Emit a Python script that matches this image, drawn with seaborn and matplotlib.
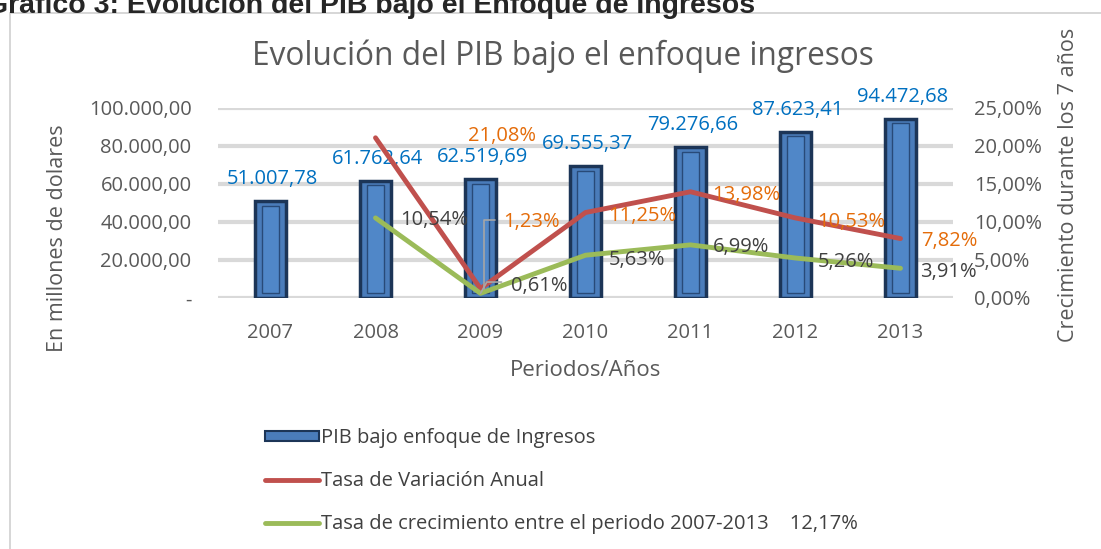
import numpy as np
import matplotlib
matplotlib.use("Agg")
import matplotlib.pyplot as plt
import matplotlib.patches as mpatches
from matplotlib.lines import Line2D
import seaborn as sns
import pandas as pd

# Data
years = ["2007", "2008", "2009", "2010", "2011", "2012", "2013"]
pib = [51007.78, 61762.64, 62519.69, 69555.37, 79276.66, 87623.41, 94472.68]
tasa_anual = [None, 21.08, 1.23, 11.25, 13.98, 10.53, 7.82]
tasa_crec = [None, 10.54, 0.61, 5.63, 6.99, 5.26, 3.91]
tasa_total = "12,17%"


def es_num(v):
    s = f"{v:,.2f}"
    return s.replace(",", "X").replace(".", ",").replace("X", ".")


def es_pct(v):
    return f"{v:.2f}%".replace(".", ",")


sns.set_theme(style="white")
plt.rcParams["font.family"] = ["Open Sans", "DejaVu Sans"]

W, H = 1101, 549
fig = plt.figure(figsize=(W / 100, H / 100), dpi=100)

# outer frame + cut heading
fig.patches.append(mpatches.Rectangle((10 / W, -0.1), 1.2, 1 - 13 / H + 0.1,
                                      transform=fig.transFigure, fill=False,
                                      edgecolor="#D0D0D0", linewidth=1.2))
fig.text(-14 / W, 1 - 13 / H, "Gráfico 3: Evolución del PIB bajo el Enfoque de Ingresos",
         fontsize=20.5, fontweight="bold", family="Liberation Sans", va="baseline")
fig.text(563 / W, 1 - 56 / H, "Evolución del PIB bajo el enfoque ingresos",
         fontsize=22.8, color="#595959", ha="center", va="center")

ax = fig.add_axes([218 / W, 1 - 298 / H, 735 / W, 190 / H])
df = pd.DataFrame({"anio": years, "pib": pib})
sns.barplot(data=df, x="anio", y="pib", ax=ax, color="#4A7CBA", saturation=1,
            width=0.3, edgecolor="#1C3557", linewidth=2.5, zorder=3)
# inner bevel panel
for p in ax.patches:
    x0, w, h = p.get_x(), p.get_width(), p.get_height()
    ax.add_patch(mpatches.Rectangle((x0 + w * 0.22, 2500), w * 0.56, h - 5000,
                                    facecolor="#5087C8", edgecolor="#284A78",
                                    linewidth=1, zorder=4))

ax.set_ylim(0, 100000)
ax.set_yticks(np.arange(0, 100001, 20000))
ax.set_yticklabels(["-"] + [es_num(v) for v in np.arange(20000, 100001, 20000)])
ax.yaxis.grid(True, color="#D9D9D9", linewidth=3, zorder=0)
ax.set_axisbelow(True)
for s in ax.spines.values():
    s.set_visible(False)
ax.tick_params(axis="y", length=0, labelsize=14.5, labelcolor="#595959", pad=19)
ax.tick_params(axis="x", length=0, labelsize=14.5, labelcolor="#595959", pad=18)
ax.set_xlabel("Periodos/Años", fontsize=16, color="#595959", labelpad=12)
ax.set_ylabel("En millones de dolares", fontsize=15.5, color="#595959")
ax.yaxis.set_label_coords(-0.204, 0.316)

for i, v in enumerate(pib):
    ax.annotate(es_num(v), (i, v), xytext=(2, 22), textcoords="offset pixels",
                ha="center", va="center", fontsize=14.5, color="#0070C0", zorder=6)

ax2 = ax.twinx()
xs = np.arange(len(years))
lt = pd.DataFrame({"x": xs, "anual": tasa_anual, "crec": tasa_crec}).dropna()
sns.lineplot(data=lt, x="x", y="anual", ax=ax2, color="#C0504D", linewidth=3.5)
sns.lineplot(data=lt, x="x", y="crec", ax=ax2, color="#9BBB59", linewidth=3.5)
ax2.set_ylim(0, 25)
ax2.set_yticks(np.arange(0, 26, 5))
ax2.set_yticklabels([es_pct(v) for v in np.arange(0, 26, 5)])
for s in ax2.spines.values():
    s.set_visible(False)
ax2.tick_params(axis="y", length=0, labelsize=14.5, labelcolor="#595959", pad=15)
ax2.set_xlabel("")
ax2.set_ylabel("Crecimiento durante los 7 años", fontsize=15.5, color="#595959")
ax2.yaxis.set_label_coords(1.143, 0.595)
ax2.set_xlim(-0.5, len(years) - 0.5)

# label offsets in pixels (left edge of text, centre height)
off_anual = [None, (93, 2), (23, 67), (23, -4), (22, -3), (22, -4), (21, -2)]
off_crec = [None, (25, -2), (31, 7), (23, -5), (22, -2), (22, -4), (20, -4)]
for i in range(1, len(years)):
    ax2.annotate(es_pct(tasa_anual[i]), (i, tasa_anual[i]), xytext=off_anual[i],
                 textcoords="offset pixels", ha="left", va="center",
                 fontsize=14.5, color="#E46C0A")
    ax2.annotate(es_pct(tasa_crec[i]), (i, tasa_crec[i]), xytext=off_crec[i],
                 textcoords="offset pixels", ha="left", va="center",
                 fontsize=14.5, color="#404040")
# leader lines for 2009
ax2.plot([2.03, 2.03, 2.14], [tasa_anual[2], 10.26, 10.26], color="#A6A6A6", linewidth=1.2)
ax2.plot([2.0, 2.06, 2.2], [tasa_crec[2], 2.1, 2.1], color="#A6A6A6", linewidth=1.2)

handles = [mpatches.Patch(facecolor="#4A7CBA", edgecolor="#1C3557", linewidth=1.5),
           Line2D([], [], color="#C0504D", linewidth=3.5),
           Line2D([], [], color="#9BBB59", linewidth=3.5)]
labels = ["PIB bajo enfoque de Ingresos", "Tasa de Variación Anual",
          "Tasa de crecimiento entre el periodo 2007-2013    " + tasa_total]
fig.legend(handles, labels, loc="upper left", bbox_to_anchor=(265 / W, 1 - 428 / H),
           frameon=False, fontsize=14.5, labelcolor="#404040", handlelength=2.7,
           handleheight=0.4, handletextpad=0.1, labelspacing=1.15, borderpad=0,
           borderaxespad=0)

fig.savefig("out.png", dpi=100)
